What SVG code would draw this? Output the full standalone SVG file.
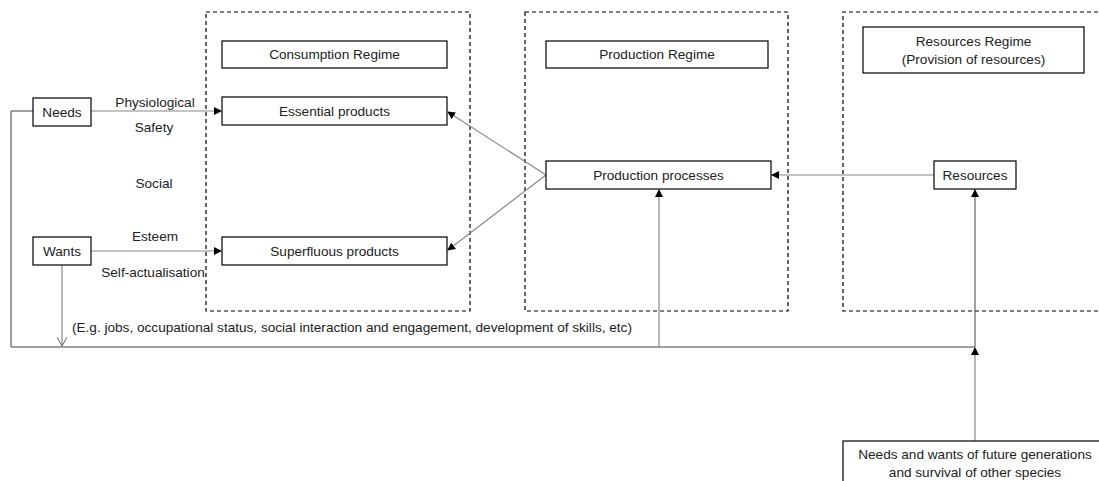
<svg xmlns="http://www.w3.org/2000/svg" width="1099" height="481" viewBox="0 0 1099 481">
<style>
.regime{fill:none;stroke:#000;stroke-width:1.2;stroke-dasharray:4,3}
.box{fill:#fff;stroke:#000;stroke-width:1.2}
.t{font-family:"Liberation Sans",Arial,sans-serif;font-size:13.6px;fill:#222;text-anchor:middle}
.tl{font-family:"Liberation Sans",Arial,sans-serif;font-size:13.6px;fill:#222}
.c{fill:none;stroke:#888;stroke-width:1.2}
.cd{fill:none;stroke:#444;stroke-width:1}
</style>
<defs>
<marker id="ah" markerWidth="8" markerHeight="8" refX="7" refY="4" orient="auto" markerUnits="userSpaceOnUse">
<path d="M0,0 L8,4 L0,8 z" fill="#000"/>
</marker>
<marker id="open" markerWidth="10" markerHeight="10" refX="9" refY="5" orient="auto" markerUnits="userSpaceOnUse">
<path d="M0,0 L9,5 L0,10" fill="none" stroke="#666" stroke-width="1"/>
</marker>
</defs>
<rect width="1099" height="481" fill="#fff"/>
<g id="regimes">
<rect class="regime" x="206" y="12" width="264" height="299"/>
<rect class="regime" x="525" y="12" width="263" height="299"/>
<path class="regime" d="M1105,12 H843 V311 H1105"/>
</g>
<g id="connectors">
<line class="c" x1="91" y1="111" x2="221" y2="111" marker-end="url(#ah)"/>
<line class="c" x1="91" y1="251" x2="221" y2="251" marker-end="url(#ah)"/>
<line class="c" x1="546" y1="175" x2="448" y2="112" marker-end="url(#ah)"/>
<line class="c" x1="546" y1="175" x2="448" y2="250" marker-end="url(#ah)"/>
<line class="c" x1="934" y1="175" x2="772" y2="175" marker-end="url(#ah)"/>
<path class="cd" d="M33,111 H11 V347 H975"/>
<line class="c" x1="62" y1="265" x2="62" y2="346" marker-end="url(#open)"/>
<line class="c" x1="659" y1="347" x2="659" y2="190" marker-end="url(#ah)"/>
<line class="c" x1="975" y1="441" x2="975" y2="348" marker-end="url(#ah)"/>
<line class="cd" x1="975" y1="347" x2="975" y2="190" marker-end="url(#ah)"/>
</g>
<g id="labels">
<text class="t" x="155" y="107">Physiological</text>
<text class="t" x="154" y="132">Safety</text>
<text class="t" x="154" y="188">Social</text>
<text class="t" x="155" y="241">Esteem</text>
<text class="t" x="153" y="277">Self-actualisation</text>
<text class="tl" x="72" y="332">(E.g. jobs, occupational status, social interaction and engagement, development of skills, etc)</text>
</g>
<g id="needs"><rect class="box" x="33" y="98" width="58" height="28"/><text class="t" x="62" y="117">Needs</text></g>
<g id="wants"><rect class="box" x="33" y="237" width="58" height="28"/><text class="t" x="62" y="256">Wants</text></g>
<g id="consumption-regime"><rect class="box" x="222" y="41" width="225" height="27"/><text class="t" x="334.5" y="59">Consumption Regime</text></g>
<g id="essential-products"><rect class="box" x="222" y="97" width="225" height="28"/><text class="t" x="334.5" y="116">Essential products</text></g>
<g id="superfluous-products"><rect class="box" x="222" y="237" width="225" height="28"/><text class="t" x="334.5" y="256">Superfluous products</text></g>
<g id="production-regime"><rect class="box" x="546" y="41" width="222" height="27"/><text class="t" x="657" y="59">Production Regime</text></g>
<g id="production-processes"><rect class="box" x="546" y="161" width="225" height="28"/><text class="t" x="658.5" y="180">Production processes</text></g>
<g id="resources-regime"><rect class="box" x="863" y="27" width="221" height="46"/><text class="t" x="973.5" y="46">Resources Regime</text><text class="t" x="973.5" y="64">(Provision of resources)</text></g>
<g id="resources"><rect class="box" x="934" y="161" width="82" height="28"/><text class="t" x="975" y="180">Resources</text></g>
<g id="future-needs"><rect class="box" x="843" y="441" width="270" height="50"/><text class="t" x="975" y="459">Needs and wants of future generations</text><text class="t" x="975" y="477">and survival of other species</text></g>
</svg>
